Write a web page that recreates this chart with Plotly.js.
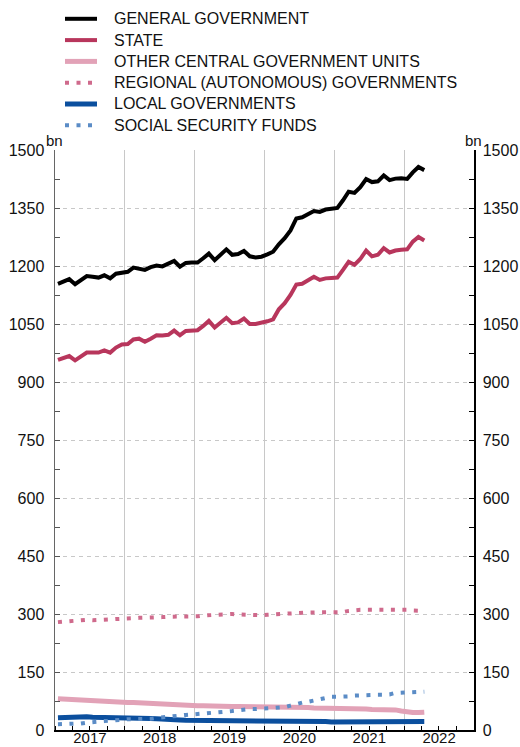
<!DOCTYPE html>
<html>
<head>
<meta charset="utf-8">
<script src="https://cdn.plot.ly/plotly-3.0.1.min.js"></script>
<style>
html,body{margin:0;padding:0;background:#fff;}
#chart{width:520px;height:747px;}
</style>
</head>
<body>
<div id="chart"></div>
<script>
// ---- data (monthly, billions) ----
const months = [
 '2017-01','2017-02','2017-03','2017-04','2017-05','2017-06','2017-07','2017-08','2017-09','2017-10','2017-11','2017-12',
 '2018-01','2018-02','2018-03','2018-04','2018-05','2018-06','2018-07','2018-08','2018-09','2018-10','2018-11','2018-12',
 '2019-01','2019-02','2019-03','2019-04','2019-05','2019-06','2019-07','2019-08','2019-09','2019-10','2019-11','2019-12',
 '2020-01','2020-02','2020-03','2020-04','2020-05','2020-06','2020-07','2020-08','2020-09','2020-10','2020-11','2020-12',
 '2021-01','2021-02','2021-03','2021-04','2021-05','2021-06','2021-07','2021-08','2021-09','2021-10','2021-11','2021-12',
 '2022-01','2022-02','2022-03','2022-04'
];
const seriesNames = [
 'GENERAL GOVERNMENT',
 'STATE',
 'OTHER CENTRAL GOVERNMENT UNITS',
 'REGIONAL (AUTONOMOUS) GOVERNMENTS',
 'LOCAL GOVERNMENTS',
 'SOCIAL SECURITY FUNDS'
];
const generalGovernment = [
 1154,1160,1166,1153,1163,1174,1172,1170,1176,1168,1180,1183,
 1185,1196,1194,1190,1197,1201,1199,1205,1213,1198,1208,1209,
 1209,1220,1232,1215,1230,1243,1229,1231,1239,1225,1222,1224,
 1230,1237,1256,1272,1292,1323,1326,1334,1342,1340,1346,1348,
 1350,1370,1392,1389,1404,1425,1417,1419,1434,1422,1426,1427,
 1425,1442,1456,1448
];
const state = [
 957,962,967,956,966,976,976,976,982,976,989,997,
 998,1010,1012,1004,1012,1021,1020,1022,1033,1021,1032,1033,
 1034,1045,1058,1041,1054,1066,1052,1054,1064,1050,1050,1053,
 1057,1062,1088,1104,1125,1152,1154,1163,1172,1164,1168,1169,
 1170,1190,1211,1203,1218,1240,1225,1229,1246,1235,1240,1242,
 1243,1263,1275,1266
];
const otherCentral = [
 81,80,80,79,78,77,76,76,75,73,71,70,
 71,71,70,70,69,69,68,67,66,65,64,64,
 63,63,62,62,62,61,61,61,61,61,61,61,
 61,60,59,59,59,58,58,58,57,57,57,56,
 56,55,55,55,54,54,53,53,53,53,52,49,
 46,45,45,46
];
const regional = [
 279,280,281,283,285,285,284,284,284,286,287,287,
 288,289,290,290,291,291,292,293,293,293,293,293,
 294,296,297,298,299,300,300,299,298,297,297,297,
 298,299,300,302,303,304,304,304,304,304,303,303,
 304,305,308,310,311,311,311,312,312,312,312,312,
 311,309,308,308
];
const local = [
 32,33,34,34,35,34,33,33,33,32,32,32,
 31,31,31,30,30,29,29,28,27,26,25,25,
 25,25,25,25,25,24,24,24,23,23,22,22,
 22,23,23,24,25,25,25,24,24,23,22,21,
 21,22,22,23,23,23,22,22,21,20,20,20,
 20,21,21,22
];
const socialSecurity = [
 15,15,15,16,17,19,21,22,23,24,26,27,
 28,28,28,29,29,31,33,34,35,37,39,40,
 41,42,43,44,46,48,49,51,53,54,54,55,
 55,56,57,59,63,68,71,73,76,79,83,86,
 86,86,87,89,90,90,90,91,91,92,96,97,
 98,99,99,99
];
const yTicks = [0,150,300,450,600,750,900,1050,1200,1350,1500];

// ---- styles ----
const seriesValues = [generalGovernment, state, otherCentral, regional, local, socialSecurity];
const seriesStyles = [
 {color:'#000000', width:4, dash:'solid'},
 {color:'#b8365c', width:4, dash:'solid'},
 {color:'#e2a2b7', width:5, dash:'solid'},
 {color:'#cf6a8c', width:4, dash:'4px,7.5px'},
 {color:'#0b4f9e', width:5, dash:'solid'},
 {color:'#5b8cc6', width:4, dash:'4px,7.5px'}
];

const W = 520, H = 747;
const M = {l:55, r:46, t:150, b:17};
const plotW = W - M.l - M.r, plotH = H - M.t - M.b;
const px2x = p => (p - M.l) / plotW;
const py2y = p => (H - M.b - p) / plotH;

const FONT = 'Liberation Sans, Arial, Helvetica, sans-serif';

const traces = seriesValues.map((vals, k) => ({
  type: 'scatter',
  mode: 'lines',
  name: seriesNames[k],
  x: months,
  y: vals,
  xperiod: 'M1',
  xperiodalignment: 'middle',
  line: {color: seriesStyles[k].color, width: seriesStyles[k].width, dash: seriesStyles[k].dash},
  showlegend: false,
  hoverinfo: 'skip'
}));
// empty trace so that the mirrored right-hand axis is drawn
traces.push({type:'scatter', mode:'lines', x:[], y:[], yaxis:'y2', showlegend:false, hoverinfo:'skip'});

// custom legend (symbols + text)
const legendTop = 18.8, legendStep = 21.3;
const shapes = [], annotations = [];
seriesNames.forEach((name, k) => {
  const yy = py2y(legendTop + k * legendStep);
  shapes.push({
    type: 'line', xref: 'paper', yref: 'paper',
    x0: px2x(65), x1: px2x(97), y0: yy, y1: yy,
    line: {color: seriesStyles[k].color, width: seriesStyles[k].width, dash: seriesStyles[k].dash}
  });
  annotations.push({
    xref: 'paper', yref: 'paper', x: px2x(112), y: yy,
    xanchor: 'left', yanchor: 'middle', showarrow: false,
    text: name, font: {family: FONT, size: 16, color: '#111'}
  });
});
annotations.push({xref:'paper', yref:'paper', x: px2x(54), y: py2y(140), xanchor:'center', yanchor:'middle',
  showarrow:false, text:'bn', font:{family:FONT, size:15, color:'#111'}});
annotations.push({xref:'paper', yref:'paper', x: px2x(473), y: py2y(140), xanchor:'center', yanchor:'middle',
  showarrow:false, text:'bn', font:{family:FONT, size:15, color:'#111'}});

const layout = {
  width: W, height: H,
  margin: M,
  paper_bgcolor: '#fff', plot_bgcolor: '#fff',
  showlegend: false,
  font: {family: FONT, size: 16, color: '#111'},
  xaxis: {
    type: 'date',
    range: ['2017-01-01', '2023-01-01'],
    tick0: '2017-01-01', dtick: 'M12',
    tickformat: '%Y', ticklabelmode: 'period',
    showgrid: true, gridcolor: '#c8c8c8', gridwidth: 1,
    ticks: 'inside', ticklen: 4, tickcolor: '#000',
    minor: {dtick: 'M3', ticks: 'inside', ticklen: 4, tickcolor: '#000', showgrid: false},
    showline: true, linecolor: '#000', linewidth: 1.5,
    zeroline: false, fixedrange: true,
    ticklabelstandoff: -7,
    tickfont: {family: FONT, size: 15, color: '#111'}
  },
  yaxis: {
    range: [0, 1500], tickvals: yTicks,
    showgrid: true, gridcolor: '#c8c8c8', griddash: '4px,4px', gridwidth: 1,
    ticks: 'inside', ticklen: 5, tickcolor: '#555',
    minor: {dtick: 75, ticks: 'inside', ticklen: 5, tickcolor: '#555', showgrid: false},
    showline: true, linecolor: '#666', linewidth: 1.5,
    zeroline: false, fixedrange: true,
    ticklabelstandoff: 6,
    tickfont: {family: FONT, size: 16, color: '#111'}
  },
  yaxis2: {
    overlaying: 'y', side: 'right', anchor: 'x',
    range: [0, 1500], tickvals: yTicks,
    showgrid: false,
    ticks: 'inside', ticklen: 5, tickcolor: '#000',
    minor: {dtick: 75, ticks: 'inside', ticklen: 5, tickcolor: '#000', showgrid: false},
    showline: true, linecolor: '#000', linewidth: 1.5,
    zeroline: false, fixedrange: true,
    ticklabelstandoff: 4,
    tickfont: {family: FONT, size: 16, color: '#111'}
  },
  shapes: shapes,
  annotations: annotations
};

Plotly.newPlot('chart', traces, layout, {staticPlot: true, displayModeBar: false});
</script>
</body>
</html>
